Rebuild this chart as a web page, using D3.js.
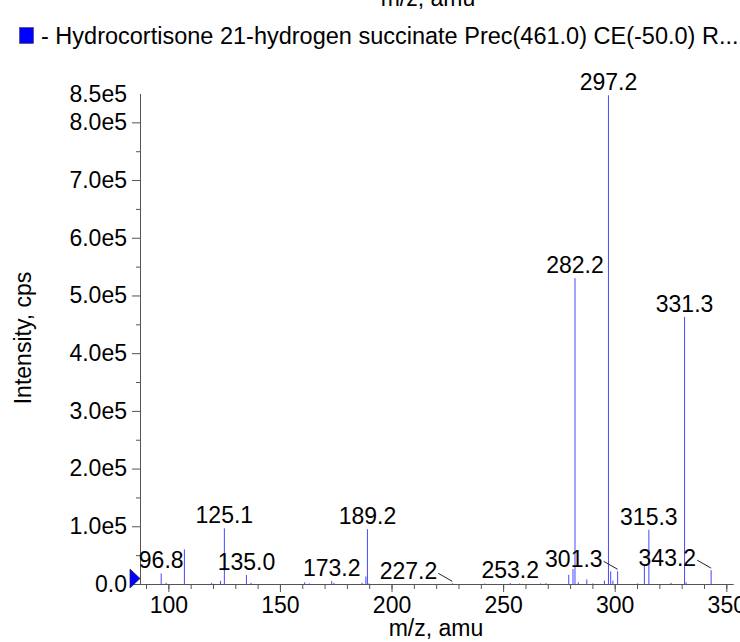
<!DOCTYPE html>
<html>
<head>
<meta charset="utf-8">
<script src="https://cdn.jsdelivr.net/npm/d3@7"></script>
<style>
  body { margin: 0; background: #fff; }
  svg { display: block; }
  text { font-family: "Liberation Sans", Arial, Helvetica, sans-serif; font-size: 23px; fill: #000; }
</style>
</head>
<body>
<svg id="chart" width="740" height="642"></svg>
<script>
// ---- data ----
const seriesName = "- Hydrocortisone 21-hydrogen succinate Prec(461.0) CE(-50.0) R...";
const xTitle = "m/z, amu";
const yTitle = "Intensity, cps";

const peakMz = [96.8, 99.0, 107.2, 119.4, 123.4, 125.1, 135.0, 137.0, 161.1, 163.3,
  173.2, 174.2, 186.8, 188.5, 189.2, 189.9, 227.2, 241.8, 253.2, 257.4,
  266.8, 269.2, 279.4, 281.3, 282.2, 283.7, 287.5, 290.2, 295.4, 297.2,
  298.2, 299.2, 301.3, 310.3, 313.3, 315.3, 325.2, 331.3, 332.0, 343.2];
const peakIntensity = [0.185e5, 0.02e5, 0.60e5, 0.02e5, 0.055e5, 0.965e5, 0.155e5, 0.02e5, 0.03e5, 0.01e5,
  0.05e5, 0.02e5, 0.02e5, 0.13e5, 0.95e5, 0.01e5, 0.012e5, 0.01e5, 0.015e5, 0.01e5,
  0.01e5, 0.015e5, 0.16e5, 0.26e5, 5.30e5, 0.03e5, 0.08e5, 0.01e5, 0.06e5, 8.47e5,
  0.22e5, 0.06e5, 0.22e5, 0.01e5, 0.33e5, 0.94e5, 0.02e5, 4.63e5, 0.03e5, 0.24e5];

const labelledMz = [96.8, 125.1, 135.0, 173.2, 189.2, 227.2, 253.2, 282.2, 297.2, 301.3, 315.3, 331.3, 343.2];
const leaderMz = [227.2, 301.3, 343.2];

const xMajorTicks = [100, 150, 200, 250, 300, 350];
const xMinorTicks = d3.range(90, 351, 10);
const yMajorTicks = [0, 1e5, 2e5, 3e5, 4e5, 5e5, 6e5, 7e5, 8e5];
const yTickLabels = ["0.0", "1.0e5", "2.0e5", "3.0e5", "4.0e5", "5.0e5", "6.0e5", "7.0e5", "8.0e5"];
const yMinorTicks = d3.range(0.5e5, 8.5e5, 1e5);
const yMax = 8.5e5;
const yMaxLabel = "8.5e5";

// ---- layout ----
const svg = d3.select("#chart");
const plotLeft = 140, plotRight = 733, plotTop = 93.5, plotBottom = 584;
const axisColor = "#555";
const fontSize = "23px";

const x = d3.scaleLinear().domain([87.3, 353]).range([plotLeft, plotRight]);
const y = d3.scaleLinear().domain([0, yMax]).range([plotBottom, plotTop]);

// clipped x title at very top
svg.append("text").attr("x", 428).attr("y", 6).attr("text-anchor", "middle").text(xTitle);

// legend
svg.append("rect").attr("x", 19.5).attr("y", 27.5).attr("width", 14).attr("height", 16)
  .attr("fill", "#0000ff").attr("stroke", "#445").attr("stroke-width", 0.6);
svg.append("text").attr("x", 41).attr("y", 44).style("font-size", "23.5px").text(seriesName);

// x axis: minor then major
const gxMinor = svg.append("g").attr("transform", `translate(0,${plotBottom})`)
  .call(d3.axisBottom(x).tickValues(xMinorTicks).tickSize(5).tickSizeOuter(0).tickFormat(""));
const gx = svg.append("g").attr("transform", `translate(0,${plotBottom})`)
  .call(d3.axisBottom(x).tickValues(xMajorTicks).tickSize(8).tickSizeOuter(0).tickPadding(5).tickFormat(d3.format("d")));

// y axis
const gyMinor = svg.append("g").attr("transform", `translate(${plotLeft},0)`)
  .call(d3.axisLeft(y).tickValues(yMinorTicks).tickSize(4).tickSizeOuter(0).tickFormat(""));
const gy = svg.append("g").attr("transform", `translate(${plotLeft},0)`)
  .call(d3.axisLeft(y).tickValues(yMajorTicks).tickSize(8).tickSizeOuter(0).tickPadding(5)
    .tickFormat((d, i) => yTickLabels[i]));

[gxMinor, gx, gyMinor, gy].forEach(g => {
  g.selectAll("path, line").attr("stroke", axisColor);
  g.selectAll("text").attr("fill", "#000").style("font-size", fontSize)
    .style("font-family", "'Liberation Sans', Arial, sans-serif");
});

svg.append("text").attr("x", plotLeft - 13).attr("y", y(yMax)).attr("dy", "0.35em")
  .attr("text-anchor", "end").text(yMaxLabel);

// axis titles
svg.append("text").attr("x", 436).attr("y", 636).attr("text-anchor", "middle").text(xTitle);
svg.append("text").attr("transform", "translate(31,338) rotate(-90)")
  .attr("text-anchor", "middle").text(yTitle);

// peaks
const peaks = peakMz.map((m, i) => ({ mz: m, v: peakIntensity[i] }));
svg.append("g").selectAll("line").data(peaks).join("line")
  .attr("x1", d => x(d.mz)).attr("x2", d => x(d.mz))
  .attr("y1", plotBottom).attr("y2", d => y(d.v))
  .attr("stroke", "#1a1aff").attr("stroke-opacity", 0.8).attr("stroke-width", 1);

// peak labels
const lbl = svg.append("g");
peaks.filter(d => labelledMz.includes(d.mz)).forEach(d => {
  const px = x(d.mz), py = y(d.v);
  if (leaderMz.includes(d.mz)) {
    lbl.append("text").attr("x", px - 15).attr("y", py - 4)
      .attr("text-anchor", "end").text(d.mz.toFixed(1));
    lbl.append("line").attr("x1", px - 14).attr("y1", py - 10)
      .attr("x2", px).attr("y2", py - 2)
      .attr("stroke", "#222").attr("stroke-width", 1);
  } else {
    lbl.append("text").attr("x", px).attr("y", py - 5)
      .attr("text-anchor", "middle").text(d.mz.toFixed(1));
  }
});

// precursor marker on the y axis
svg.append("path")
  .attr("d", d3.line()([[plotLeft - 10, plotBottom - 15], [plotLeft - 10, plotBottom + 4], [plotLeft, plotBottom - 5.5]]) + "Z")
  .attr("fill", "#0000ff").attr("stroke", "#223").attr("stroke-width", 0.7);
</script>
</body>
</html>
